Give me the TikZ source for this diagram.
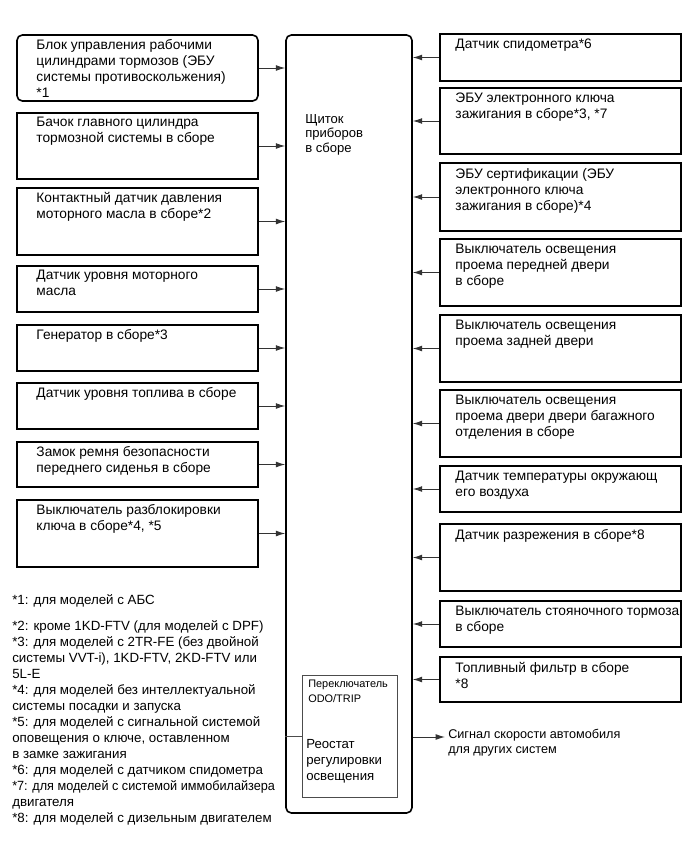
\documentclass[tikz,border=0pt]{standalone}
\usepackage{graphicx}
\usepackage{fontspec}
\setmainfont{Liberation Sans}
\usetikzlibrary{arrows.meta,fit,positioning}
\newcommand\bodyfs{\fontsize{10.3}{12}\selectfont}
\newcommand\smallfs{\fontsize{8.2}{11.2}\selectfont}
\tikzset{
  unitbox/.style    = {draw=black, line width=1.2pt, inner sep=0pt},
  panelbox/.style   = {draw=black, line width=1.2pt, rounded corners=4pt,
                       inner sep=0pt},
  subbox/.style     = {draw=black!70, line width=0.6pt, inner sep=0pt},
  lefttxt/.style    = {anchor=north west, inner sep=0pt, align=left,
                       xshift=15pt, yshift=-3.6pt, font=\bodyfs},
  righttxt/.style   = {anchor=north west, inner sep=0pt, align=left,
                       xshift=12pt, yshift=-4.2pt, font=\bodyfs},
  freetxt/.style    = {anchor=north west, inner sep=0pt, align=left,
                       font=\bodyfs},
  sigar/.style      = {-{Latex[length=7pt,width=4.4pt]}, draw=black!80,
                       line width=0.7pt}
}
\begin{document}
\begin{tikzpicture}[x=0.75pt, y=-0.75pt]
  \useasboundingbox (0,0) rectangle (689,853);
  % combination meter
  \node[panelbox, fit={(286,35) (412,813)}] (panel) {};
  \node[freetxt, font=\fontsize{9.8}{11}\selectfont] (paneltxt) at (305,114)
    {Щиток\\приборов\\в сборе};
  \node[subbox, fit={(302,675) (397,797)}] (rheo) {};
  \node[freetxt, font=\smallfs] (odotxt) at (308,680) {Переключатель\\ODO/TRIP};
  \node[freetxt, font=\fontsize{9.9}{12}\selectfont] (rheotxt) at (306,739)
    {Реостат\\регулировки\\освещения};
  \draw[draw=black!70, line width=0.6pt] (rheo.west) -- (rheo.west -| panel.west);
  % inputs on the left
  \node[unitbox, rounded corners=4pt, fit={(17,35) (258,101)}] (l1) {};
  \node[lefttxt] (lt1) at (l1.north west)
    {Блок управления рабочими\\цилиндрами тормозов (ЭБУ\\системы противоскольжения)\\*1};
  \draw[sigar] (l1.east) -- (l1.east -| panel.west);
  \foreach \n/\ya/\yb/\txt in {
    2/113/179/{Бачок главного цилиндра\\тормозной системы в сборе},
    3/188/255/{Контактный датчик давления\\моторного масла в сборе*2},
    4/266/312/{Датчик уровня моторного\\масла},
    5/325/371/{Генератор в сборе*3},
    6/383/429/{Датчик уровня топлива в сборе},
    7/442/487/{Замок ремня безопасности\\переднего сиденья в сборе},
    8/500/567/{Выключатель разблокировки\\ключа в сборе*4, *5}}{
    \node[unitbox, fit={(17,\ya) (258,\yb)}] (l\n) {};
    \node[lefttxt] (lt\n) at (l\n.north west) {\txt};
    \draw[sigar] (l\n.east) -- (l\n.east -| panel.west);
  }
  % inputs on the right
  \foreach \n/\ya/\yb/\txt in {
    1/34/81/{Датчик спидометра*6},
    2/88/154/{ЭБУ электронного ключа\\зажигания в сборе*3, *7},
    3/163/231/{ЭБУ сертификации (ЭБУ\\электронного ключа\\зажигания в сборе)*4},
    4/239/306/{Выключатель освещения\\проема передней двери\\в сборе},
    5/315/382/{Выключатель освещения\\проема задней двери},
    6/390/457/{Выключатель освещения\\проема двери двери багажного\\отделения в сборе},
    7/466/512/{Датчик температуры окружающ\\его воздуха},
    8/524/591/{Датчик разрежения в сборе*8},
    9/601/647/{Выключатель стояночного тормоза\\в сборе},
    10/657/702/{Топливный фильтр в сборе\\*8}}{
    \node[unitbox, fit={(440,\ya) (681,\yb)}] (r\n) {};
    \node[righttxt] (rt\n) at (r\n.north west) {\txt};
    \draw[sigar] (r\n.west) -- (r\n.west -| panel.east);
  }
  % output
  \coordinate (sigin) at (445,737);
  \draw[sigar] (sigin -| panel.east) -- (sigin);
  \node[freetxt, font=\fontsize{9.5}{11.2}\selectfont] (sigtxt) at (448,729)
    {Сигнал скорости автомобиля\\для других систем};
  % notes
  \node[freetxt, font=\fontsize{10}{12}\selectfont] (notes) at (12,594.7)
    {*1: для моделей с АБС\\[7pt]
    *2: кроме 1KD-FTV (для моделей с DPF)\\
    *3: для моделей с 2TR-FE (без двойной\\
    системы VVT-i), 1KD-FTV, 2KD-FTV или\\
    5L-E\\
    *4: для моделей без интеллектуальной\\
    системы посадки и запуска\\
    *5: для моделей с сигнальной системой\\
    оповещения о ключе, оставленном\\
    в замке зажигания\\
    *6: для моделей с датчиком спидометра\\
    \scalebox{0.95}[1]{*7: для моделей с системой иммобилайзера}\\
    двигателя\\
    *8: для моделей с дизельным двигателем};
\end{tikzpicture}
\end{document}
